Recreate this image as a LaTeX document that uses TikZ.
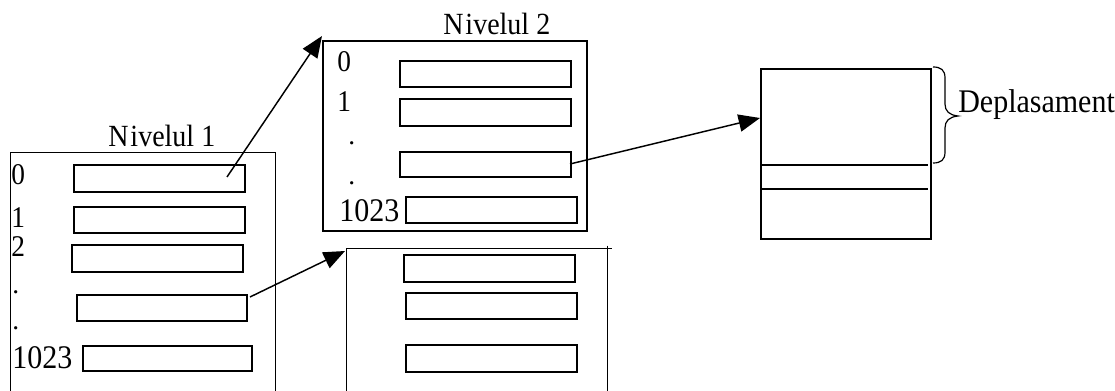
\documentclass[tikz,border=0pt]{standalone}
\usepackage{fontspec}
\setmainfont{Liberation Serif}
\usetikzlibrary{arrows.meta,fit}

% one unit = one pixel of the sheet, y grows downwards
\tikzset{
  x=0.75pt, y=-0.75pt,
  slot/.style={draw, line width=1.2pt, inner sep=0pt},
  frame/.style={draw, line width=1pt, inner sep=0pt},
  frameside/.style={line width=1pt},
  link/.style={line width=1.1pt, -{Triangle[length=16pt,width=13pt]}},
  title/.style={inner sep=0pt, anchor=base west, font=\fontsize{21}{21}\selectfont},
  idx/.style={inner sep=0pt, anchor=base west, font=\fontsize{20.5}{20.5}\selectfont},
  bigidx/.style={inner sep=0pt, anchor=base west, font=\fontsize{22.5}{22.5}\selectfont},
  note/.style={inner sep=0pt, anchor=base west, font=\fontsize{22.5}{22.5}\selectfont},
}

% slightly tall lettering
\newcommand\tall[1]{\scalebox{1}[1.1]{#1}}

% \slotbox{name}{x1}{y1}{x2}{y2}: a named rectangle between two corners
\newcommand\slotbox[5]{%
  \coordinate (#1-a) at (#2,#3);
  \coordinate (#1-b) at (#4,#5);
  \node[slot, fit=(#1-a)(#1-b)] (#1) {};
}

\begin{document}
\begin{tikzpicture}
\useasboundingbox (0,0) rectangle (1115,391);

% ---------- level 1 table (open at the bottom) ----------
\coordinate (t1-a) at (11,153);
\coordinate (t1-b) at (275,391);
\node[inner sep=0pt, fit=(t1-a)(t1-b)] (t1) {};
\draw[frameside] (t1.south west) |- (t1.north east) -- (t1.south east);
\node[title] (t1title) at (108,147) {\tall{N\kern1.5pt ivelul 1}};

\slotbox{p0}{74}{165}{245}{192}
\slotbox{p1}{74}{207}{245}{233}
\slotbox{p2}{72}{245}{243}{272}
\slotbox{p3}{77}{295}{247}{321}
\slotbox{p4}{83}{346}{252}{371}

\node[idx] (i0) at (11,185) {\tall{0}};
\node[idx] (i1) at (11,228) {\tall{1}};
\node[idx] (i2) at (11,257) {\tall{2}};
\node[idx] (d1) at (12,294) {.};
\node[idx] (d2) at (12,330) {.};
\node[bigidx] (i1023) at (12,369) {\tall{1023}};

% ---------- level 2 table ----------
\coordinate (t2-a) at (323,41);
\coordinate (t2-b) at (587,231);
\node[frame, fit=(t2-a)(t2-b)] (t2) {};
\node[title] (t2title) at (443,35) {\tall{N\kern1.5pt ivelul 2}};

\slotbox{q0}{400}{61}{571}{87}
\slotbox{q1}{400}{99}{571}{126}
\slotbox{q2}{400}{152}{571}{177}
\slotbox{q3}{406}{197}{577}{223}

\node[idx] (j0) at (337,72) {\tall{0}};
\node[idx] (j1) at (337,112) {\tall{1}};
\node[idx] (e1) at (348,145) {.};
\node[idx] (e2) at (348,185) {.};
\node[bigidx] (j1023) at (339,222) {\tall{1023}};

% ---------- second level 2 table (open at the bottom) ----------
\coordinate (t3-a) at (347,249);
\coordinate (t3-b) at (607,391);
\node[inner sep=0pt, fit=(t3-a)(t3-b)] (t3) {};
\draw[frameside] (t3.south west) -- (t3.north west) -- ([xshift=5*0.75pt]t3.north east);
\draw[frameside] ([yshift=3*0.75pt]t3.north east) -- (t3.south east);

\slotbox{r0}{404}{255}{575}{282}
\slotbox{r1}{406}{293}{577}{319}
\slotbox{r2}{406}{345}{577}{372}

% ---------- page ----------
\coordinate (pg-a) at (761,69);
\coordinate (pg-b) at (931,239);
\node[frame, fit=(pg-a)(pg-b)] (pg) {};
\draw[frameside] (761,165) -- (928,165);
\draw[frameside] (761,189) -- (928,189);

% brace marking the offset range
\draw[line width=0.9pt]
  (933,67) .. controls (941,67) and (945,70) .. (945,78)
  -- (945,104) .. controls (945,111) and (949,115) .. (958,116)
  .. controls (949,117) and (945,121) .. (945,128)
  -- (945,152) .. controls (945,160) and (941,163) .. (933,163);
\node[note] (off) at (958,113) {\tall{Deplasament}};

% ---------- pointers ----------
\coordinate (s1) at (227,177);
\coordinate (e1t) at (322,36);
\coordinate (s2) at (250,297);
\coordinate (e2t) at (345,251);
\coordinate (s3) at (570,164);
\coordinate (e3t) at (760,118);
\draw[link] (s1) -- (e1t);
\draw[link] (s2) -- (e2t);
\draw[link] (s3) -- (e3t);
\end{tikzpicture}
\end{document}
